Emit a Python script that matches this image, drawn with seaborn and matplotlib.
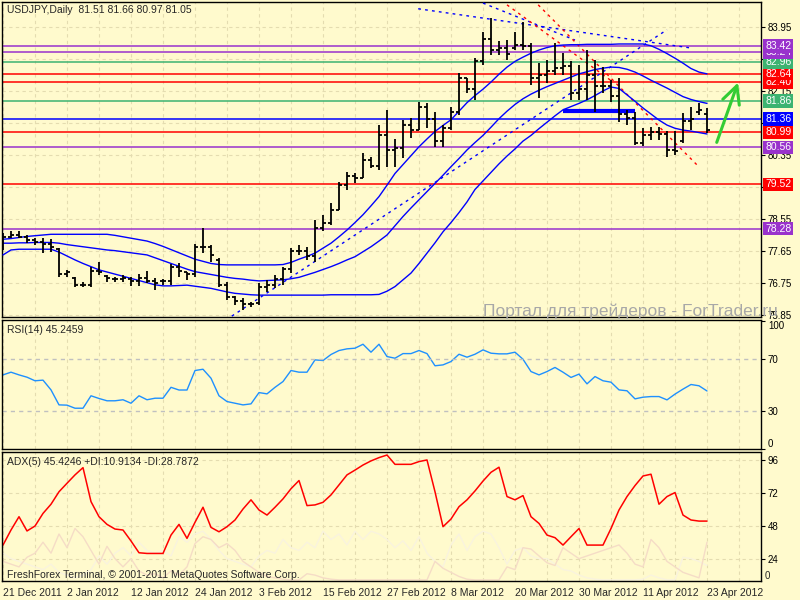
import matplotlib
matplotlib.use("Agg")
import matplotlib.pyplot as plt
import matplotlib.transforms as mtransforms
import numpy as np
import pandas as pd
import seaborn as sns

# --- USDJPY daily, 21 Dec 2011 - 23 Apr 2012 ---
dates = pd.bdate_range("2011-12-21", "2012-04-23")

opens = [77.90, 78.05, 78.10, 78.05, 77.95, 77.90, 77.85, 77.70, 77.00, 76.90,
         76.70, 76.70, 77.10, 76.95, 76.85, 76.85, 76.85, 76.80, 76.90, 76.80,
         76.80, 76.80, 77.20, 77.05, 77.00, 77.75, 77.75, 77.40, 76.70, 76.35,
         76.25, 76.15, 76.20, 76.65, 76.70, 76.85, 77.15, 77.65, 77.65, 77.50,
         78.30, 78.45, 78.80, 79.50, 79.75, 79.70, 80.20, 80.05, 80.90, 80.50,
         80.55, 81.20, 81.05, 81.70, 81.35, 80.75, 81.10, 81.55, 82.50, 82.20,
         83.00, 83.60, 83.30, 83.35, 83.35, 83.45, 83.40, 82.50, 82.60, 82.70,
         82.80, 82.85, 82.10, 82.20, 82.60, 82.30, 82.30, 82.00, 81.50, 81.40,
         80.70, 80.90, 81.00, 80.95, 80.50, 80.75, 81.30, 81.55, 81.51]
highs = [78.15, 78.20, 78.20, 78.10, 78.01, 78.01, 77.98, 77.73, 77.12, 76.93,
         76.79, 77.21, 77.35, 76.98, 76.91, 76.98, 76.91, 77.00, 77.10, 76.88,
         76.85, 77.29, 77.30, 77.07, 77.85, 78.29, 77.82, 77.44, 76.79, 76.39,
         76.32, 76.23, 76.74, 76.84, 76.98, 77.21, 77.73, 77.82, 77.77, 78.52,
         78.66, 78.99, 79.60, 79.88, 79.83, 80.40, 80.30, 81.19, 81.62, 80.79,
         81.34, 81.38, 81.85, 81.80, 81.57, 81.19, 81.71, 82.65, 82.51, 83.07,
         83.82, 84.19, 83.54, 83.59, 83.82, 84.10, 83.49, 82.93, 83.02, 83.49,
         83.21, 82.98, 82.88, 83.30, 83.02, 82.83, 82.46, 82.51, 81.62, 81.57,
         81.10, 81.15, 81.15, 81.01, 81.01, 81.52, 81.71, 81.80, 81.66]
lows = [77.68, 78.01, 78.01, 77.87, 77.82, 77.59, 77.61, 76.91, 76.91, 76.63,
        76.63, 76.63, 76.98, 76.79, 76.79, 76.79, 76.67, 76.67, 76.74, 76.55,
        76.69, 76.69, 76.93, 76.84, 76.93, 77.59, 77.35, 76.63, 76.27, 76.13,
        75.99, 76.09, 76.13, 76.51, 76.60, 76.70, 77.02, 77.54, 77.40, 77.35,
        78.20, 78.38, 78.80, 79.37, 79.55, 79.70, 79.98, 79.93, 80.02, 80.02,
        80.26, 80.82, 81.05, 81.10, 80.58, 80.58, 81.05, 81.48, 82.09, 81.90,
        82.88, 83.16, 83.16, 83.02, 83.30, 83.30, 82.32, 81.94, 82.37, 82.60,
        82.60, 81.90, 81.90, 81.90, 81.57, 82.09, 81.85, 81.29, 81.19, 80.63,
        80.59, 80.77, 80.77, 80.30, 80.35, 80.68, 81.05, 81.48, 80.97]
closes = [78.05, 78.10, 78.05, 77.95, 77.90, 77.85, 77.75, 77.00, 77.05, 76.70,
          76.70, 77.10, 77.05, 76.90, 76.85, 76.90, 76.80, 76.90, 76.80, 76.75,
          76.80, 77.20, 77.10, 77.00, 77.75, 77.75, 77.55, 76.70, 76.35, 76.25,
          76.15, 76.15, 76.65, 76.70, 76.85, 77.15, 77.65, 77.65, 77.50, 78.30,
          78.45, 78.80, 79.50, 79.75, 79.70, 80.20, 80.05, 80.90, 80.50, 80.55,
          81.20, 81.05, 81.70, 81.35, 80.75, 81.10, 81.55, 82.50, 82.20, 83.00,
          83.60, 83.30, 83.35, 83.20, 83.45, 83.40, 82.50, 82.60, 82.70, 82.80,
          82.85, 82.10, 82.20, 82.60, 82.30, 82.30, 82.00, 81.50, 81.40, 80.70,
          80.90, 81.00, 80.95, 80.50, 80.45, 81.30, 81.35, 81.60, 81.05]

# bollinger-type envelope as drawn on the chart
band_upper = [77.98, 78.00, 78.03, 78.06, 78.08, 78.10, 78.12, 78.12, 78.12, 78.12,
              78.12, 78.12, 78.12, 78.12, 78.09, 78.05, 78.01, 77.97, 77.93, 77.86,
              77.78, 77.69, 77.60, 77.51, 77.42, 77.36, 77.30, 77.27, 77.26, 77.26,
              77.26, 77.26, 77.26, 77.26, 77.26, 77.27, 77.33, 77.42, 77.50, 77.59,
              77.73, 77.87, 78.05, 78.24, 78.45, 78.67, 78.92, 79.18, 79.50, 79.83,
              80.08, 80.33, 80.58, 80.80, 81.01, 81.18, 81.34, 81.58, 81.82, 82.02,
              82.20, 82.40, 82.62, 82.82, 82.98, 83.10, 83.21, 83.30, 83.37, 83.42,
              83.44, 83.45, 83.45, 83.46, 83.46, 83.46, 83.46, 83.47, 83.47, 83.47,
              83.47, 83.42, 83.32, 83.20, 83.07, 82.93, 82.78, 82.68, 82.63]
band_mid = [77.87, 77.87, 77.88, 77.88, 77.89, 77.89, 77.89, 77.87, 77.83, 77.80,
            77.77, 77.74, 77.71, 77.68, 77.66, 77.63, 77.60, 77.57, 77.54, 77.46,
            77.38, 77.30, 77.22, 77.14, 77.07, 77.03, 76.99, 76.95, 76.91, 76.88,
            76.86, 76.83, 76.81, 76.82, 76.83, 76.84, 76.87, 76.91, 76.98, 77.05,
            77.13, 77.21, 77.30, 77.40, 77.49, 77.63, 77.77, 77.93, 78.10, 78.36,
            78.62, 78.86, 79.09, 79.32, 79.55, 79.78, 80.02, 80.25, 80.49, 80.70,
            80.90, 81.13, 81.37, 81.58, 81.77, 81.93, 82.06, 82.17, 82.27, 82.36,
            82.45, 82.54, 82.63, 82.69, 82.75, 82.79, 82.82, 82.81, 82.76, 82.68,
            82.57, 82.45, 82.34, 82.23, 82.11, 81.99, 81.91, 81.85, 81.80]
band_lower = [77.54, 77.68, 77.70, 77.70, 77.70, 77.70, 77.70, 77.62, 77.51, 77.40,
              77.30, 77.21, 77.12, 77.06, 77.00, 76.94, 76.88, 76.82, 76.76, 76.70,
              76.67, 76.67, 76.68, 76.69, 76.66, 76.63, 76.60, 76.55, 76.50, 76.46,
              76.44, 76.42, 76.41, 76.41, 76.41, 76.41, 76.41, 76.41, 76.41, 76.41,
              76.41, 76.42, 76.42, 76.42, 76.42, 76.42, 76.42, 76.43, 76.52, 76.65,
              76.84, 77.03, 77.30, 77.59, 77.88, 78.19, 78.45, 78.73, 79.03, 79.38,
              79.62, 79.86, 80.10, 80.32, 80.52, 80.74, 80.90, 81.09, 81.27, 81.45,
              81.62, 81.71, 81.80, 81.90, 82.02, 82.15, 82.26, 82.22, 82.04, 81.86,
              81.67, 81.50, 81.33, 81.19, 81.10, 81.05, 81.02, 80.98, 80.94]

rsi = [57.8, 59.9, 57.8, 56.0, 53.2, 53.7, 46.1, 34.4, 34.2, 31.8,
       31.8, 41.5, 39.4, 37.6, 37.6, 38.4, 35.7, 41.5, 38.4, 39.6,
       39.6, 48.1, 46.0, 46.0, 61.2, 62.2, 55.2, 41.5, 37.0, 35.7,
       34.4, 35.2, 44.0, 43.0, 48.1, 52.6, 61.2, 59.9, 59.9, 69.5,
       69.0, 73.7, 76.8, 78.1, 78.6, 81.7, 75.5, 81.7, 72.1, 70.8,
       74.4, 74.4, 76.8, 74.4, 64.9, 65.6, 68.2, 73.9, 71.6, 73.9,
       77.3, 74.7, 74.2, 74.2, 75.5, 70.0, 60.4, 57.8, 60.4, 63.6,
       59.9, 55.8, 58.4, 50.8, 56.5, 53.2, 52.1, 46.1, 45.4, 39.1,
       40.4, 40.9, 40.9, 38.3, 42.8, 46.7, 50.3, 49.3, 45.25]

adx = [33.9, 44.9, 54.6, 44.2, 47.8, 57.0, 63.7, 72.8, 79.0, 85.1,
       90.4, 65.6, 54.6, 49.0, 45.6, 44.9, 36.9, 28.3, 27.8, 27.8,
       27.8, 41.2, 49.0, 38.8, 50.5, 61.5, 46.8, 43.6, 47.3, 52.2,
       60.2, 66.9, 59.5, 55.8, 61.5, 67.6, 75.0, 81.0, 62.7, 63.2,
       65.1, 70.5, 77.8, 85.1, 88.6, 92.3, 95.3, 97.7, 99.6, 92.8,
       92.8, 92.8, 94.8, 96.0, 72.8, 47.3, 52.9, 61.9, 66.9, 73.4,
       80.6, 87.0, 90.7, 69.3, 66.9, 70.0, 54.6, 49.7, 41.2, 39.3,
       33.9, 40.0, 46.0, 33.9, 33.9, 33.9, 46.0, 59.5, 69.3, 77.3,
       84.3, 85.6, 63.7, 69.3, 72.2, 55.8, 52.2, 51.4, 51.4]
plus_di = [22, 20, 18, 25, 28, 36, 28, 42, 32, 46,
           40, 30, 20, 33, 24, 18, 24, 15, 12, 13,
           10, 15, 12, 18, 35, 40, 38, 32, 35, 30,
           22, 18, 14, 11, 10, 9, 8.5, 8.5, 13, 12,
           10, 9, 8.5, 8.5, 8.5, 8.5, 8.5, 8.5, 8.5, 8.5,
           8.5, 8.5, 8.5, 8.5, 22, 17, 14, 11, 9, 8.5,
           8.5, 8.5, 8.5, 18, 16, 32, 31, 26, 21, 19,
           32, 28, 24, 26, 28, 30, 32, 34, 28, 20,
           18, 38, 32, 22, 18, 14, 12, 10, 36]
minus_di = [28, 24, 22, 20, 18, 16, 20, 14, 12, 10,
            12, 16, 26, 20, 28, 32, 26, 36, 30, 28,
            30, 26, 40, 36, 42, 44, 38, 30, 24, 22,
            20, 18, 26, 30, 28, 38, 32, 30, 36, 32,
            44, 38, 42, 34, 44, 38, 44, 42, 38, 32,
            37, 30, 40, 28, 22, 18, 34, 42, 30, 40,
            44, 42, 32, 20, 30, 32, 26, 24, 24, 20,
            16, 15, 12, 10, 9, 8.5, 8.5, 8.5, 8.5, 8.5,
            9, 12, 10, 8.5, 8.5, 25, 24, 22, 19]

# horizontal levels drawn by the trader
levels = [83.42, 83.24, 82.96, 82.64, 82.40, 81.86, 81.36, 80.99, 80.56, 79.52, 78.28]
level_kind = ["purple", "purple", "green", "red", "red", "green", "blue", "red",
              "purple", "red", "purple"]

# trend lines (bar index, price)
blue_up_x, blue_up_y = [28.6, 83.0], [75.82, 83.87]
blue_dn1_x, blue_dn1_y = [51.9, 85.9], [84.46, 83.36]
blue_dn2_x, blue_dn2_y = [60.0, 71.5], [84.62, 83.58]
red_dn1_x, red_dn1_y = [63.0, 76.25], [84.57, 82.40]
red_dn2_x, red_dn2_y = [66.9, 86.75], [84.57, 80.07]
support_x, support_y = [70, 79], 81.58
arrow_x, arrow_y = [89.1, 92.0], [80.63, 82.46]

price_ticks = [83.95, 83.05, 82.15, 81.25, 80.35, 79.45, 78.55, 77.65, 76.75, 75.85]
hidden_ticks = [83.05, 81.25]   # covered by the level boxes on the original
rsi_ticks = [0, 30, 70, 100]
adx_ticks = [24, 48, 72, 96]

# ---------------------------------------------------------------
sns.set_style("white")
plt.rcParams['font.family'] = ['Liberation Sans', 'DejaVu Sans']
BG = "#FFFACD"
GRID = "#E4DCB0"
colors = {"purple": "#9932CC", "green": "#3CB371", "red": "#FF0000", "blue": "#0000FF"}

idx = np.arange(len(dates))
fig = plt.figure(figsize=(8, 6), dpi=100, facecolor=BG)
W = 759 / 800
ax = fig.add_axes([2 / 800, 1 - 317 / 600, W, 315 / 600])
ax_rsi = fig.add_axes([2 / 800, 1 - 449 / 600, W, 129 / 600])
ax_adx = fig.add_axes([2 / 800, 1 - 581 / 600, W, 129 / 600])

for a in (ax, ax_rsi, ax_adx):
    a.set_facecolor(BG)
    a.set_xlim(-0.125, 94.75)
    a.set_xticks(range(0, 89, 8))
    a.set_xticks(range(0, 95, 4), minor=True)
    a.grid(True, which="both", axis="x", color=GRID, ls=(0, (3, 3)), lw=0.8)
    a.yaxis.tick_right()
    a.tick_params(axis="y", which="major", length=3, width=0.8, pad=2, labelsize=7, colors="black")
    for s in a.spines.values():
        s.set_color("black")
        s.set_linewidth(1)
    a.set_axisbelow(True)

# --- main panel ---
ax.set_ylim(75.795, 84.65)
ax.set_yticks(price_ticks)
ax.set_yticklabels(["" if p in hidden_ticks else f"{p:.2f}" for p in price_ticks])
ax.grid(True, axis="y", color=GRID, ls=(0, (3, 3)), lw=0.8)
ax.tick_params(axis="x", which="both", length=0, labelbottom=False)

for lvl, kind in zip(levels, level_kind):
    ax.axhline(lvl, color=colors[kind], lw=1.1, zorder=2)

ax.hlines(support_y, support_x[0], support_x[1], color="#0000FF", lw=3, zorder=3)

for xs, ys, c in [(blue_up_x, blue_up_y, "#0000FF"), (blue_dn1_x, blue_dn1_y, "#0000FF"),
                  (blue_dn2_x, blue_dn2_y, "#0000FF"), (red_dn1_x, red_dn1_y, "#FF0000"),
                  (red_dn2_x, red_dn2_y, "#FF0000")]:
    ax.plot(xs, ys, color=c, lw=1, ls=(0, (2, 3)), zorder=3)

for band in (band_upper, band_mid, band_lower):
    sns.lineplot(x=idx, y=band, ax=ax, color="#0000FF", lw=1, zorder=3)

ax.vlines(idx, lows, highs, color="black", lw=1.3, zorder=4)
ax.hlines(opens, idx - 0.4, idx, color="black", lw=1.3, zorder=4)
ax.hlines(closes, idx, idx + 0.4, color="black", lw=1.3, zorder=4)

ax.annotate("", xy=(arrow_x[1], arrow_y[1]), xytext=(arrow_x[0], arrow_y[0]),
            arrowprops=dict(arrowstyle="->,head_length=0.9,head_width=0.45", color="#33CC33",
                            lw=2.2, mutation_scale=14), zorder=6)

lab_tr = mtransforms.blended_transform_factory(ax.transAxes, ax.transData)
for lvl, kind in zip(levels, level_kind):
    ax.text(1.0 + 4 / 759, lvl, f"{lvl:.2f}", transform=lab_tr, ha="left", va="center",
            fontsize=7.5, color="white", zorder=10 + lvl, clip_on=False,
            bbox=dict(boxstyle="square,pad=0.18", fc=colors[kind], ec="none"))

ax.text(5 / 759, 0.975, "USDJPY,Daily  81.51 81.66 80.97 81.05", transform=ax.transAxes,
        ha="left", va="center", fontsize=7.5)

# --- RSI panel ---
sns.lineplot(x=idx, y=rsi, ax=ax_rsi, color="#1E90FF", lw=1)
ax_rsi.set_ylim(0.2, 100.6)
ax_rsi.set_yticks(rsi_ticks)
ax_rsi.set_yticklabels([str(t) for t in rsi_ticks])
ylabs = ax_rsi.get_yticklabels()
ylabs[0].set_verticalalignment("bottom")
ylabs[-1].set_verticalalignment("top")
for lv in (30, 70):
    ax_rsi.axhline(lv, color="#C0C0C0", lw=1, ls=(0, (3, 3)))
ax_rsi.tick_params(axis="x", which="both", length=0, labelbottom=False)
ax_rsi.text(5 / 759, 0.922, "RSI(14) 45.2459", transform=ax_rsi.transAxes,
            ha="left", va="center", fontsize=7.5)

# --- ADX panel ---
sns.lineplot(x=idx, y=minus_di, ax=ax_adx, color="#F9F3DE", lw=1)
sns.lineplot(x=idx, y=plus_di, ax=ax_adx, color="#F5DCC6", lw=1)
sns.lineplot(x=idx, y=adx, ax=ax_adx, color="#FF0000", lw=1.1)
ax_adx.set_ylim(7.7, 101.8)
ax_adx.set_yticks(adx_ticks)
ax_adx.set_yticklabels([str(t) for t in adx_ticks])
ax_adx.grid(True, axis="y", color=GRID, ls=(0, (3, 3)), lw=0.8)
ax_adx.text(1.0 + 4 / 759, 7.7, "0", transform=ax_adx.get_yaxis_transform(),
            ha="left", va="bottom", fontsize=7, clip_on=False)
ax_adx.text(5 / 759, 0.922, "ADX(5) 45.4246 +DI:10.9134 -DI:28.7872",
            transform=ax_adx.transAxes, ha="left", va="center", fontsize=7.5)
ax_adx.text(5 / 759, 0.05, "FreshForex Terminal, \u00a9 2001-2011 MetaQuotes Software Corp.",
            transform=ax_adx.transAxes, ha="left", va="center", fontsize=7.5)
ax_adx.set_xticklabels([f"{d.day} {d:%b %Y}" for d in dates[::8]])
ax_adx.tick_params(axis="x", which="major", length=3, width=0.8, pad=2, labelsize=7.5)
ax_adx.tick_params(axis="x", which="minor", length=0)
plt.setp(ax_adx.get_xticklabels(), ha="left")

for a in (ax, ax_rsi, ax_adx):
    a.set_xlabel("")
    a.set_ylabel("")

fig.text(483 / 800, 1 - 311 / 600, "Портал для трейдеров - ForTrader.ru", fontsize=12.5,
         color="#A8A8A8", ha="left", va="center", zorder=20)

fig.savefig("out.png", dpi=100, facecolor=BG)
